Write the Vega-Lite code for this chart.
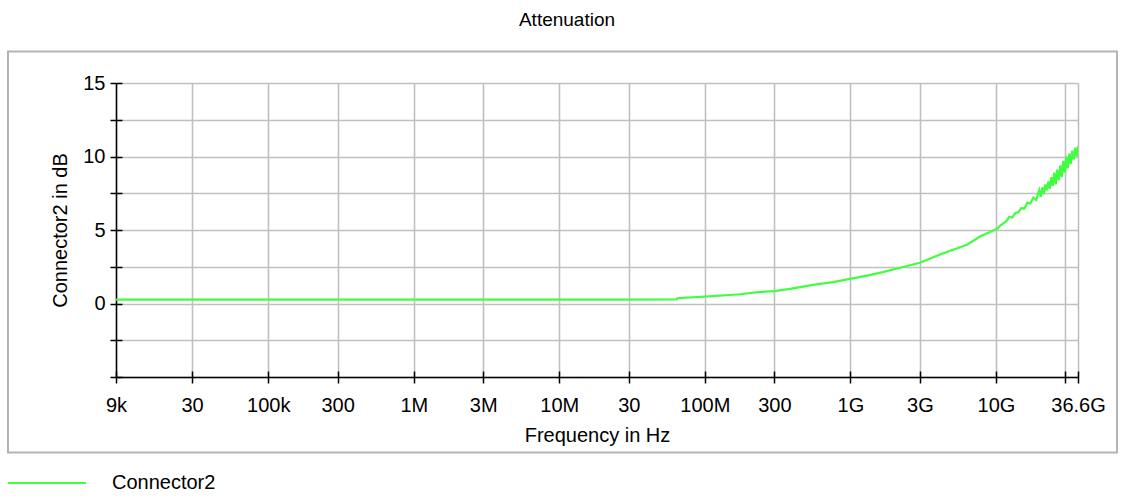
{
  "$schema": "https://vega.github.io/schema/vega-lite/v6.json",
  "width": 962,
  "height": 294,
  "autosize": {"type": "none"},
  "padding": {"left": 116, "top": 83, "right": 48, "bottom": 121},
  "background": "white",
  "title": {"text": "Attenuation", "fontSize": 19, "font": "Liberation Sans", "fontWeight": "normal", "color": "black", "offset": 21, "dx": -30},
  "config": {"view": {"stroke": null}, "font": "Liberation Sans"},
  "resolve": {"axis": {"x": "independent", "y": "independent"}},
  "layer": [
    {
      "data": {"values": [
        {"f": 9000, "v": 0.27}, {"f": 20000, "v": 0.26}, {"f": 50000, "v": 0.27}, {"f": 150000, "v": 0.26},
        {"f": 500000, "v": 0.27}, {"f": 1500000, "v": 0.26}, {"f": 5000000, "v": 0.27}, {"f": 15000000, "v": 0.26},
        {"f": 30000000, "v": 0.27}, {"f": 64000000, "v": 0.28}, {"f": 64500000, "v": 0.36}, {"f": 114000000, "v": 0.5},
        {"f": 174000000, "v": 0.63}, {"f": 232000000, "v": 0.77}, {"f": 299000000, "v": 0.84}, {"f": 385000000, "v": 1.0},
        {"f": 553000000, "v": 1.27}, {"f": 759000000, "v": 1.45}, {"f": 993000000, "v": 1.68}, {"f": 1300000000, "v": 1.9},
        {"f": 1670000000, "v": 2.13}, {"f": 2190000000, "v": 2.43}, {"f": 3000000000, "v": 2.77}, {"f": 4120000000, "v": 3.33},
        {"f": 6320000000, "v": 4.0}, {"f": 7760000000, "v": 4.56}, {"f": 10200000000, "v": 5.08},
        {"f": 10700000000, "v": 5.3}, {"f": 11220000000, "v": 5.45}, {"f": 11770000000, "v": 5.6}, {"f": 12340000000, "v": 5.9},
        {"f": 12940000000, "v": 5.85}, {"f": 13570000000, "v": 6.15}, {"f": 14230000000, "v": 6.2}, {"f": 14920000000, "v": 6.5},
        {"f": 15640000000, "v": 6.45}, {"f": 16400000000, "v": 6.85}, {"f": 17200000000, "v": 6.8}, {"f": 18040000000, "v": 7.2},
        {"f": 18910000000, "v": 7.05}, {"f": 19830000000, "v": 7.7}, {"f": 20310000000, "v": 7.25}, {"f": 20800000000, "v": 7.9},
        {"f": 21300000000, "v": 7.45}, {"f": 21810000000, "v": 8.1}, {"f": 22340000000, "v": 7.7}, {"f": 22870000000, "v": 8.3},
        {"f": 23420000000, "v": 7.8}, {"f": 23980000000, "v": 8.6}, {"f": 24550000000, "v": 8.0}, {"f": 25140000000, "v": 8.9},
        {"f": 25750000000, "v": 8.1}, {"f": 26360000000, "v": 9.1}, {"f": 27000000000, "v": 8.4}, {"f": 27650000000, "v": 9.4},
        {"f": 28310000000, "v": 8.6}, {"f": 28990000000, "v": 9.7}, {"f": 29690000000, "v": 8.9}, {"f": 30400000000, "v": 10.0},
        {"f": 31130000000, "v": 9.2}, {"f": 31880000000, "v": 10.2}, {"f": 32650000000, "v": 9.5}, {"f": 33430000000, "v": 10.4},
        {"f": 34230000000, "v": 9.8}, {"f": 35050000000, "v": 10.6}, {"f": 35890000000, "v": 10.0}, {"f": 36600000000, "v": 10.7}
      ]},
      "mark": {"type": "line", "strokeWidth": 2.2, "clip": true},
      "encoding": {
        "x": {
          "field": "f", "type": "quantitative",
          "scale": {"type": "log", "domain": [9000, 36600000000], "nice": false, "zero": false},
          "axis": {
            "orient": "bottom",
            "title": "Frequency in Hz",
            "values": [9000, 30000, 100000, 300000, 1000000, 3000000, 10000000, 30000000, 100000000, 300000000, 1000000000, 3000000000, 10000000000, 30000000000, 36600000000],
            "labelExpr": "datum.value == 9000 ? '9k' : datum.value == 30000 ? '30' : datum.value == 100000 ? '100k' : datum.value == 300000 ? '300' : datum.value == 1000000 ? '1M' : datum.value == 3000000 ? '3M' : datum.value == 10000000 ? '10M' : datum.value == 30000000 ? '30' : datum.value == 100000000 ? '100M' : datum.value == 300000000 ? '300' : datum.value == 1000000000 ? '1G' : datum.value == 3000000000 ? '3G' : datum.value == 10000000000 ? '10G' : datum.value == 36600000000 ? '36.6G' : ''",
            "labelFontSize": 20, "labelColor": "black", "labelFont": "Liberation Sans", "labelPadding": 12, "labelFlush": false, "labelOverlap": false,
            "titleFontSize": 20, "titleFontWeight": "normal", "titleColor": "black", "titleFont": "Liberation Sans", "titlePadding": 10,
            "tickSize": 6, "tickColor": "black", "tickWidth": 1.5,
            "domainColor": "black", "domainWidth": 1.5,
            "grid": true, "gridColor": "#c0c0c0", "gridWidth": 1.6
          }
        },
        "y": {
          "field": "v", "type": "quantitative",
          "scale": {"domain": [-5, 15], "nice": false, "zero": false},
          "axis": {
            "orient": "left",
            "title": "Connector2 in dB",
            "values": [-5, -2.5, 0, 2.5, 5, 7.5, 10, 12.5, 15],
            "labelExpr": "(datum.value % 5 == 0 && datum.value >= 0) ? datum.label : ''",
            "labelFontSize": 20, "labelColor": "black", "labelFont": "Liberation Sans", "labelPadding": 5, "labelFlush": false, "labelOverlap": false,
            "titleFontSize": 20, "titleFontWeight": "normal", "titleColor": "black", "titleFont": "Liberation Sans", "titlePadding": 12,
            "tickSize": 6, "tickColor": "black", "tickWidth": 1.5,
            "domainColor": "black", "domainWidth": 1.5,
            "grid": true, "gridColor": "#c0c0c0", "gridWidth": 1.6
          }
        },
        "color": {
          "datum": "Connector2",
          "scale": {"range": ["#40ff40"]},
          "legend": {
            "orient": "none", "legendX": -109, "legendY": 360, "title": null,
            "symbolType": "stroke", "symbolSize": 6084, "symbolStrokeWidth": 2,
            "labelFontSize": 20, "labelColor": "black", "labelFont": "Liberation Sans", "labelOffset": 25, "padding": 0
          }
        }
      }
    },
    {
      "data": {"values": [{}]},
      "mark": {"type": "rect", "fill": "transparent", "stroke": "#b4b4b4", "strokeWidth": 2, "clip": false},
      "encoding": {
        "x": {"datum": 1630, "type": "quantitative",
          "scale": {"type": "log", "domain": [9000, 36600000000], "nice": false, "zero": false},
          "axis": {"orient": "bottom", "values": [9000, 30000, 100000, 300000, 1000000, 3000000, 10000000, 30000000, 100000000, 300000000, 1000000000, 3000000000, 10000000000, 30000000000, 36600000000], "labels": false, "domain": false, "grid": false, "title": null, "tickSize": -6, "tickColor": "black", "tickWidth": 1.5}},
        "x2": {"datum": 67800000000},
        "y": {"datum": 17.14, "type": "quantitative",
          "scale": {"domain": [-5, 15], "nice": false, "zero": false},
          "axis": {"orient": "left", "values": [-5, -2.5, 0, 2.5, 5, 7.5, 10, 12.5, 15], "labels": false, "domain": false, "grid": false, "title": null, "tickSize": -6, "tickColor": "black", "tickWidth": 1.5}},
        "y2": {"datum": -10.14}
      }
    }
  ]
}
